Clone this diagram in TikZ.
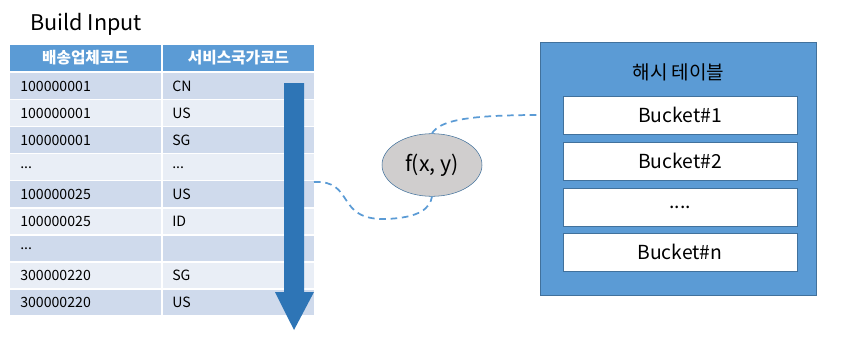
\documentclass[tikz,border=0pt]{standalone}
\usepackage{fontspec}
\setmainfont{Noto Sans CJK KR}
\usetikzlibrary{shapes.geometric}
\definecolor{hdblue}{HTML}{5B9BD5}
\definecolor{rowdark}{HTML}{CFDAEC}
\definecolor{rowlight}{HTML}{E9EEF6}
\definecolor{arrblue}{HTML}{2E75B6}
\definecolor{edgeblue}{HTML}{41719C}
\definecolor{fgray}{HTML}{D0CECE}
\newcommand\rowdots{...}
\newcommand\bucketdots{....}
\tikzset{
    cell/.style={anchor=west, font=\fontsize{10.6}{12}\selectfont, inner sep=0pt},
    bucket/.style={draw=edgeblue, fill=white, minimum width=175.5pt, minimum height=28.5pt, font=\fontsize{14.5}{16}\selectfont},
    link/.style={hdblue, line width=1.3pt, dash pattern=on 5pt off 3.5pt},
}
\begin{document}
\begin{tikzpicture}[x=0.75pt, y=-0.75pt]
    \useasboundingbox (0,0) rectangle (844,343);
    \node[anchor=base west, font=\fontsize{16.2}{19}\selectfont, inner sep=0pt] (title) at (30,30) {Build Input};
    % header
    \fill[hdblue] (10,45) rectangle (161,71);
    \fill[hdblue] (163,45) rectangle (314,71);
    \node[font=\fontsize{11.8}{13}\selectfont\bfseries, text=white] (h1) at (85.5,58) {배송업체코드};
    \node[font=\fontsize{11.8}{13}\selectfont\bfseries, text=white] (h2) at (238.5,58) {서비스국가코드};
    % rows
    \foreach \i/\a/\b in {1/100000001/CN,2/100000001/US,3/100000001/SG,4/\rowdots/\rowdots,5/100000025/US,6/100000025/ID,7/\rowdots/,8/300000220/SG,9/300000220/US} {
        \pgfmathsetmacro{\rowtop}{73+27.1*(\i-1)}
        \pgfmathtruncatemacro{\odd}{mod(\i,2)}
        \ifnum\odd=1 \def\rowcol{rowdark}\else\def\rowcol{rowlight}\fi
        \fill[\rowcol] (10,\rowtop) rectangle (161,\rowtop+25.6);
        \fill[\rowcol] (163,\rowtop) rectangle (314,\rowtop+25.6);
        \node[cell] (a\i) at (20,\rowtop+13) {\a};
        \node[cell] (b\i) at (172,\rowtop+13) {\b};
    }
    % scan arrow
    \fill[arrblue] (284,83) -- (304,83) -- (304,292) -- (314,292) -- (294,330) -- (275,292) -- (284,292) -- cycle;
    % hash function
    \node[ellipse, draw=edgeblue, fill=fgray, minimum width=75pt, minimum height=47pt, font=\fontsize{16}{18}\selectfont] (f) at (432,165) {f(x, y)};
    % hash table
    \node[draw=edgeblue, fill=hdblue, minimum width=207pt, minimum height=190pt] (ht) at (678.5,168.5) {};
    \node[font=\fontsize{14.3}{16}\selectfont] (htname) at (678.5,72) {해시 테이블};
    \foreach \i/\t/\y in {1/Bucket\#1/115,2/Bucket\#2/161,3/\bucketdots/207,4/Bucket\#n/252} {
        \node[bucket] (bk\i) at (680,\y) {\t};
    }
    \coordinate (in) at (314,182);
    \coordinate (tin) at (ht.west |- 0,115);
    \draw[link] (in) .. controls (355,180) and (335,220) .. (385,219) .. controls (420,218) and (430,208) .. (f.south);
    \draw[link] (f.north) .. controls (440,120) and (470,115) .. (tin);
\end{tikzpicture}
\end{document}
